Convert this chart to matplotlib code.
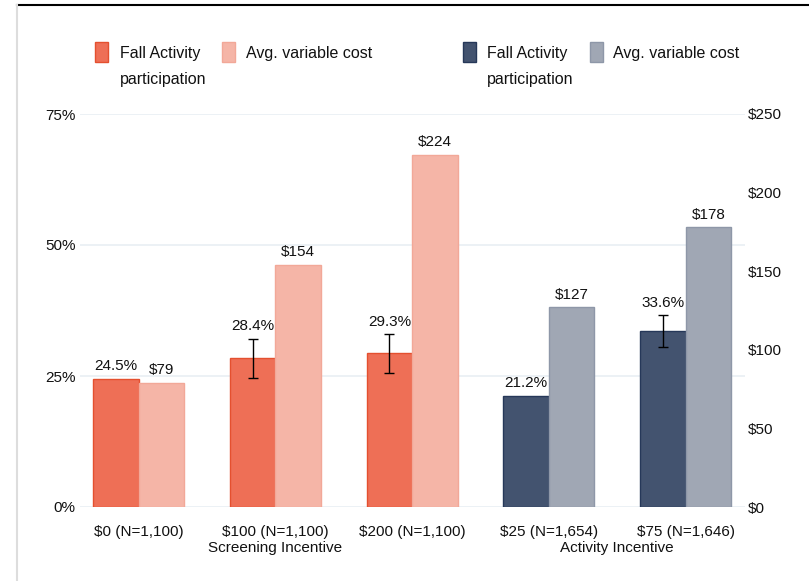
import matplotlib.pyplot as plt
from matplotlib.patches import Rectangle
from matplotlib.lines import Line2D
from matplotlib.transforms import blended_transform_factory

plt.rcParams["font.family"] = ["Liberation Sans", "DejaVu Sans"]
plt.rcParams["font.size"] = 11

# data
groups = ["$0 (N=1,100)", "$100 (N=1,100)", "$200 (N=1,100)",
          "$25 (N=1,654)", "$75 (N=1,646)"]
participation = [24.5, 28.4, 29.3, 21.2, 33.6]
part_err = [0, 3.7, 3.7, 0, 3.0]
cost = [79, 154, 224, 127, 178]
is_activity = [False, False, False, True, True]
section_names = ["Screening Incentive", "Activity Incentive"]
section_pos = [1, 3.5]

ORANGE = "#EE6F56"
ORANGE_EDGE = "#E4502F"
SALMON = "#F5B5A7"
SALMON_EDGE = "#F2A898"
NAVY = "#43536F"
NAVY_EDGE = "#263859"
GRAY = "#A0A7B4"
GRAY_EDGE = "#8E97A8"
GRID = "#E9EFF3"

fig = plt.figure(figsize=(8.09, 5.81), dpi=100)
ax = fig.add_axes([80 / 809, 1 - 507 / 581, 665 / 809, 393 / 581])
ax2 = ax.twinx()

w = 1 / 3
x = list(range(len(groups)))

for i in x:
    act = is_activity[i]
    fc1, ec1 = (NAVY, NAVY_EDGE) if act else (ORANGE, ORANGE_EDGE)
    fc2, ec2 = (GRAY, GRAY_EDGE) if act else (SALMON, SALMON_EDGE)

    ax.bar(i - w / 2, participation[i], width=w,
           color=fc1, edgecolor=ec1, linewidth=1, zorder=3)
    top = participation[i]
    if part_err[i] > 0:
        ax.errorbar(i - w / 2, participation[i], yerr=part_err[i],
                    fmt="none", ecolor="black", elinewidth=1,
                    capsize=3.5, capthick=1, zorder=4)
        top = participation[i] + part_err[i]
    ax.annotate(f"{participation[i]:.1f}%", (i - w / 2, top),
                xytext=(0, 4), textcoords="offset points",
                ha="center", va="bottom", color="#111111")

    ax2.bar(i + w / 2, cost[i], width=w,
            color=fc2, edgecolor=ec2, linewidth=1, zorder=3)
    ax2.annotate(f"${cost[i]}", (i + w / 2, cost[i]),
                 xytext=(0, 4), textcoords="offset points",
                 ha="center", va="bottom", color="#111111")

ax.set_xlim(-0.43, 4.435)
ax.set_ylim(0, 75)
ax.set_yticks([0, 25, 50, 75])
ax.set_yticklabels(["0%", "25%", "50%", "75%"])
ax2.set_ylim(0, 250)
ax2.set_yticks([0, 50, 100, 150, 200, 250])
ax2.set_yticklabels([f"${v}" for v in [0, 50, 100, 150, 200, 250]])

ax.set_xticks(x)
ax.set_xticklabels(groups)
ax.tick_params(axis="x", length=0, pad=13, colors="#111111")
ax.tick_params(axis="y", length=0, pad=3, colors="#111111")
ax2.tick_params(axis="y", length=0, pad=2, colors="#111111")

ax.set_axisbelow(True)
ax.grid(axis="y", color=GRID, linewidth=1.2)
for a in (ax, ax2):
    for s in a.spines.values():
        s.set_visible(False)

trans = blended_transform_factory(ax.transData, ax.transAxes)
for name, pos in zip(section_names, section_pos):
    ax.text(pos, -0.105, name, transform=trans,
            ha="center", va="center", color="#111111")

# legend, drawn by hand
legend_items = [
    (95, ORANGE, ORANGE_EDGE, 120, "Fall Activity\nparticipation"),
    (222, SALMON, SALMON_EDGE, 246, "Avg. variable cost"),
    (463, NAVY, NAVY_EDGE, 487, "Fall Activity\nparticipation"),
    (590, GRAY, GRAY_EDGE, 613, "Avg. variable cost"),
]
for px, fc, ec, tx, label in legend_items:
    fig.add_artist(Rectangle((px / 809, 1 - 62 / 581), 13 / 809, 20 / 581,
                             transform=fig.transFigure,
                             facecolor=fc, edgecolor=ec, linewidth=1))
    fig.text(tx / 809, 1 - 46 / 581, label, ha="left", va="top",
             fontsize=11.5, linespacing=1.95, color="#111111")

# frame lines
fig.add_artist(Line2D([17 / 809, 1], [1 - 5 / 581, 1 - 5 / 581],
                      transform=fig.transFigure, color="black", linewidth=1.5))
fig.add_artist(Line2D([17 / 809, 17 / 809], [0, 1 - 5 / 581],
                      transform=fig.transFigure, color="#DDDDDD", linewidth=1.5))

fig.savefig("out.png", dpi=100)
